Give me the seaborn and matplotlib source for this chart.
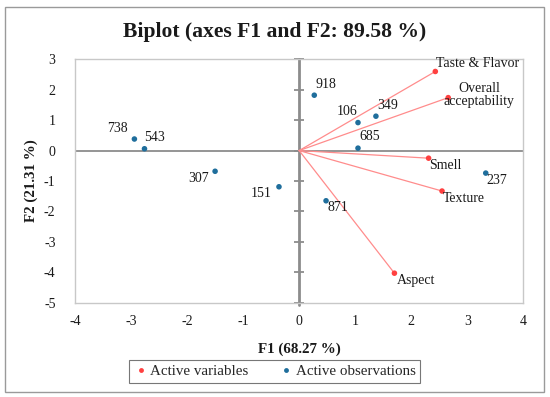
import matplotlib
matplotlib.use("Agg")
import matplotlib.pyplot as plt
import seaborn as sns
import pandas as pd
from matplotlib.patches import Rectangle
from matplotlib.lines import Line2D

# ---- data ----
var_names = ["Taste & Flavor", "Overall\nacceptability", "Smell", "Texture", "Aspect"]
var_f1 = [2.43, 2.66, 2.31, 2.55, 1.70]
var_f2 = [2.60, 1.74, -0.25, -1.33, -4.03]

obs_names = ["918", "106", "349", "685", "738", "543", "307", "151", "871", "237"]
obs_f1 = [0.27, 1.05, 1.37, 1.05, -2.94, -2.76, -1.50, -0.36, 0.48, 3.33]
obs_f2 = [1.82, 0.92, 1.13, 0.08, 0.38, 0.06, -0.68, -1.19, -1.65, -0.74]

x_ticks = [-4, -3, -2, -1, 0, 1, 2, 3, 4]
y_ticks = [-5, -4, -3, -2, -1, 0, 1, 2, 3]

title = "Biplot (axes F1 and F2: 89.58 %)"
xlabel = "F1 (68.27 %)"
ylabel = "F2 (21.31 %)"

# ---- styling ----
RED = "#ff4040"
RED_LINE = "#ff8c8c"
BLUE = "#1f6e9c"
PX = 0.72  # px -> points at dpi 100

# label offsets (px) and alignment
var_lab = {
    "Taste & Flavor": ((1, 8), "left"),
    "Overall\nacceptability": ((31, 3), "center"),
    "Smell": ((1, -7), "left"),
    "Texture": ((1, -7), "left"),
    "Aspect": ((2, -7), "left"),
}
obs_lab = {
    "918": ((1, 11), "left"),
    "106": ((-1, 11), "right"),
    "349": ((1, 11), "left"),
    "685": ((1, 11.5), "left"),
    "738": ((-7, 11), "right"),
    "543": ((0, 11.7), "left"),
    "307": ((-6, -7), "right"),
    "151": ((-7, -7), "right"),
    "871": ((1, -7), "left"),
    "237": ((1, -7), "left"),
}

sns.set_theme(style="white")
plt.rcParams["font.family"] = ["Liberation Serif", "DejaVu Serif"]

fig = plt.figure(figsize=(5.5, 3.97), dpi=100)
ax = fig.add_axes([75 / 550, 1 - 302.7 / 397, (523.3 - 75) / 550, (302.7 - 59.3) / 397])

ax.set_xlim(-4, 4)
ax.set_ylim(-5, 3)

# zero axes
ax.axhline(0, color="#8c8c8c", lw=1.3, zorder=1)
ax.plot([0, 0], [-5.08, 3], color="#8c8c8c", lw=2.0, zorder=1, clip_on=False)
ax.plot([0] * len(y_ticks), y_ticks, ls="none", marker="_", ms=6.5, mew=1.3,
        color="#8c8c8c", zorder=1, clip_on=False)

# variable vectors
for fx, fy in zip(var_f1, var_f2):
    ax.plot([0, fx], [0, fy], color=RED_LINE, lw=0.9, zorder=2)

df_var = pd.DataFrame({"F1": var_f1, "F2": var_f2, "name": var_names,
                       "kind": "Active variables"})
df_obs = pd.DataFrame({"F1": obs_f1, "F2": obs_f2, "name": obs_names,
                       "kind": "Active observations"})
df = pd.concat([df_var, df_obs], ignore_index=True)

sns.scatterplot(data=df, x="F1", y="F2", hue="kind",
                palette={"Active variables": RED, "Active observations": BLUE},
                s=16, linewidth=0, ax=ax, zorder=3, legend=False)

fs = 10
for n, fx, fy in zip(var_names, var_f1, var_f2):
    (dx, dy), ha = var_lab[n]
    ax.annotate(n, (fx, fy), xytext=(dx * PX, dy * PX), textcoords="offset points",
                ha=ha, va="center", fontsize=fs, color="#1a1a1a",
                multialignment="center", linespacing=1.0)
for n, fx, fy in zip(obs_names, obs_f1, obs_f2):
    (dx, dy), ha = obs_lab[n]
    ax.annotate(n, (fx, fy), xytext=(dx * PX, dy * PX), textcoords="offset points",
                ha=ha, va="center", fontsize=fs, color="#1a1a1a")

ax.set_xticks(x_ticks)
ax.set_yticks(y_ticks)
ax.set_xticklabels([str(t) for t in x_ticks])
ax.set_yticklabels([str(t) for t in y_ticks])
ax.tick_params(axis="both", length=0, labelsize=fs, colors="#1a1a1a")
ax.tick_params(axis="y", pad=14)
ax.tick_params(axis="x", pad=9)
for sp in ax.spines.values():
    sp.set_color("#c8c8c8")
    sp.set_linewidth(1.0)

ax.set_xlabel(xlabel, fontsize=10.8, fontweight="bold", color="#1a1a1a")
ax.set_ylabel(ylabel, fontsize=10.8, fontweight="bold", color="#1a1a1a")
ax.xaxis.set_label_coords(0.5, -(343 - 302.7) / (302.7 - 59.3))
ax.yaxis.set_label_coords(-(75 - 38) / (523.3 - 75), 0.5)

fig.text(275 / 550, 1 - 31.5 / 397, title, ha="center", va="center",
         fontsize=15.6, fontweight="bold", color="#1a1a1a")

# legend
handles = [Line2D([], [], ls="none", marker="o", ms=3.5, color=RED, mew=0),
           Line2D([], [], ls="none", marker="o", ms=3.5, color=BLUE, mew=0)]
leg = fig.legend(handles, ["Active variables", "Active observations"],
                 loc="center", bbox_to_anchor=(274.5 / 550, 1 - 371.5 / 397),
                 ncol=2, frameon=True, fancybox=False, fontsize=10.8,
                 handlelength=1.0, handletextpad=0.15, columnspacing=2.0,
                 borderpad=0.3, borderaxespad=0)
leg.get_frame().set_edgecolor("#555555")
leg.get_frame().set_linewidth(0.8)

# outer border
fig.patches.append(Rectangle((4.7 / 550, 1 - 392 / 397), (544 - 4.7) / 550,
                             (392 - 6.7) / 397, transform=fig.transFigure,
                             fill=False, edgecolor="#9a9a9a", lw=1.0))

fig.savefig("out.png", dpi=100)
